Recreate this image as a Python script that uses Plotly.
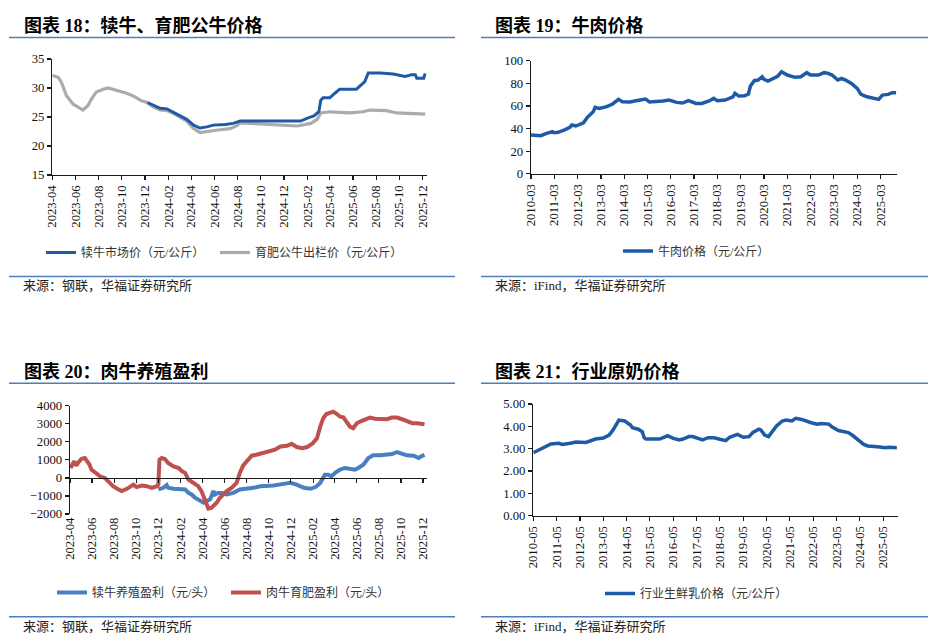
import plotly.graph_objects as go

# ---------------- Data ----------------
# 图表18: 犊牛 / 育肥公牛 价格 (元/公斤)
bull_dates = ["2023-04-01", "2023-04-10", "2023-04-17", "2023-04-25", "2023-05-08", "2023-05-26",
              "2023-06-13", "2023-06-21", "2023-07-04", "2023-07-13", "2023-07-26", "2023-08-13",
              "2023-08-26", "2023-09-05", "2023-09-27", "2023-10-14", "2023-11-01", "2023-11-19",
              "2023-12-06", "2023-12-23", "2024-01-10", "2024-01-28", "2024-02-15", "2024-03-02",
              "2024-03-20", "2024-04-07", "2024-04-24", "2024-05-12", "2024-05-29", "2024-06-16",
              "2024-07-12", "2024-07-30", "2024-08-08", "2024-09-04", "2024-10-08", "2024-11-22",
              "2025-01-05", "2025-02-10", "2025-02-27", "2025-03-08", "2025-04-01", "2025-05-23",
              "2025-06-27", "2025-07-15", "2025-08-28", "2025-09-24", "2025-12-08"]
bull_price = [32.2, 32.0, 31.8, 31.0, 28.7, 27.2,
              26.5, 26.2, 27.0, 28.1, 29.3, 29.8,
              30.0, 29.8, 29.5, 29.1, 28.6, 27.9,
              27.5, 26.7, 26.2, 26.1, 25.6, 25.0,
              24.3, 23.0, 22.3, 22.5, 22.7, 22.8,
              23.0, 23.5, 24.0, 23.9, 23.8, 23.7,
              23.45, 23.9, 24.6, 25.7, 25.9, 25.7,
              25.9, 26.2, 26.1, 25.7, 25.5]

calf_dates = ["2023-12-08", "2023-12-23", "2024-01-10", "2024-01-28", "2024-02-15", "2024-03-02",
              "2024-03-20", "2024-04-07", "2024-04-24", "2024-05-12", "2024-05-29", "2024-06-30",
              "2024-07-20", "2024-08-08", "2024-09-04", "2024-10-08", "2024-11-22", "2025-01-14",
              "2025-02-01", "2025-02-18", "2025-03-03", "2025-03-08", "2025-03-14", "2025-04-01",
              "2025-04-14", "2025-04-27", "2025-06-10", "2025-06-23", "2025-07-02", "2025-07-11",
              "2025-08-11", "2025-09-15", "2025-10-16", "2025-11-03", "2025-11-12", "2025-11-16",
              "2025-12-04", "2025-12-08"]
calf_price = [27.5, 27.1, 26.5, 26.4, 25.8, 25.2,
              24.6, 23.6, 23.1, 23.3, 23.6, 23.7,
              23.9, 24.3, 24.3, 24.2, 24.2, 24.3,
              24.8, 25.2, 25.9, 27.9, 28.3, 28.3,
              29.1, 29.8, 29.8, 30.5, 31.1, 32.6,
              32.6, 32.4, 32.0, 32.3, 32.3, 31.7,
              31.7, 32.5]

# 图表19: 牛肉价格 (元/公斤)
beef_dates = ["2010-03", "2010-08", "2010-11", "2011-02", "2011-03", "2011-05", "2011-08", "2011-11",
              "2011-12", "2012-02", "2012-06", "2012-08", "2012-11", "2012-12", "2013-02", "2013-06",
              "2013-09", "2013-12", "2014-02", "2014-06", "2014-09", "2015-02", "2015-04", "2015-08",
              "2015-11", "2016-02", "2016-06", "2016-09", "2016-12", "2017-04", "2017-07", "2017-11",
              "2018-01", "2018-03", "2018-07", "2018-11", "2018-12", "2019-02", "2019-05", "2019-07",
              "2019-08", "2019-10", "2019-12", "2020-02", "2020-03", "2020-05", "2020-08", "2020-10",
              "2020-12", "2021-03", "2021-07", "2021-10", "2022-01", "2022-03", "2022-07", "2022-10",
              "2022-12", "2023-02", "2023-05", "2023-07", "2023-09", "2023-12", "2024-03", "2024-05",
              "2024-08", "2024-12", "2025-02", "2025-04", "2025-07", "2025-09", "2025-11"]
beef_price = [34.2, 33.6, 35.7, 37.2, 36.3, 36.6, 38.6, 41.0,
              43.1, 42.2, 45.1, 49.9, 54.9, 58.7, 57.8, 59.3,
              61.7, 65.8, 63.7, 63.4, 64.6, 66.1, 63.4, 63.7,
              64.3, 65.2, 63.1, 62.5, 64.6, 62.2, 62.2, 64.6,
              66.7, 64.6, 65.2, 68.1, 71.1, 68.7, 69.0, 70.5,
              77.6, 82.3, 82.9, 85.8, 83.5, 82.0, 84.4, 86.1,
              90.3, 87.3, 85.3, 85.8, 89.4, 87.3, 87.3, 89.4,
              88.8, 87.3, 82.9, 84.4, 82.9, 79.9, 75.5, 70.2,
              68.1, 66.7, 65.8, 69.6, 70.2, 71.7, 71.7]

# 图表20: 肉牛养殖盈利 (元/头)
fatten_dates = ["2023-04-01", "2023-04-05", "2023-04-12", "2023-04-19", "2023-04-24", "2023-05-03",
                "2023-05-12", "2023-05-18", "2023-05-25", "2023-05-30", "2023-06-09", "2023-06-23",
                "2023-07-06", "2023-07-15", "2023-07-29", "2023-08-13", "2023-08-22", "2023-09-05",
                "2023-09-19", "2023-09-23", "2023-10-02", "2023-10-16", "2023-10-30", "2023-11-13",
                "2023-11-27", "2023-12-01", "2023-12-04", "2023-12-10", "2023-12-19", "2023-12-28",
                "2024-01-12", "2024-01-26", "2024-02-04", "2024-02-13", "2024-02-22", "2024-03-06",
                "2024-03-20", "2024-03-29", "2024-04-08", "2024-04-17", "2024-04-26", "2024-05-10",
                "2024-05-19", "2024-05-28", "2024-06-07", "2024-06-20", "2024-07-04", "2024-07-13",
                "2024-07-22", "2024-08-01", "2024-08-15", "2024-08-28", "2024-09-16", "2024-09-26",
                "2024-10-05", "2024-10-18", "2024-11-02", "2024-11-20", "2024-12-03", "2024-12-17",
                "2025-01-01", "2025-01-15", "2025-01-29", "2025-02-11", "2025-02-20", "2025-02-28",
                "2025-03-09", "2025-03-18", "2025-03-28", "2025-04-07", "2025-04-16", "2025-04-25",
                "2025-05-04", "2025-05-13", "2025-05-22", "2025-06-01", "2025-06-10", "2025-06-24",
                "2025-07-07", "2025-07-21", "2025-08-05", "2025-08-23", "2025-09-06", "2025-09-20",
                "2025-10-04", "2025-10-17", "2025-11-01", "2025-11-14", "2025-12-05"]
fatten_profit = [680, 640, 920, 680, 860, 1060,
                 1100, 920, 730, 460, 275, 90,
                 0, -180, -460, -640, -730, -605,
                 -460, -370, -510, -420, -460, -550,
                 -460, -370, 1010, 1100, 1050, 830,
                 640, 550, 370, 275, -90, -275,
                 -460, -730, -1190, -1700, -1650, -1380,
                 -1100, -920, -730, -550, -275, 275,
                 680, 920, 1230, 1280, 1380, 1470,
                 1470, 1560, 1740, 1780, 1890, 1710,
                 1650, 1710, 1890, 2200, 2840, 3300,
                 3540, 3610, 3670, 3540, 3390, 3360,
                 3120, 2840, 2750, 3030, 3120, 3250,
                 3340, 3280, 3250, 3250, 3340, 3340,
                 3250, 3120, 3030, 3030, 2970]

breed_dates = ["2023-12-01", "2023-12-15", "2023-12-24", "2023-12-28", "2024-01-12", "2024-01-30",
               "2024-02-13", "2024-02-22", "2024-03-02", "2024-03-11", "2024-03-25", "2024-04-04",
               "2024-04-13", "2024-04-22", "2024-05-01", "2024-05-05", "2024-05-14", "2024-05-23",
               "2024-06-07", "2024-06-25", "2024-07-13", "2024-08-01", "2024-08-20", "2024-09-08",
               "2024-09-26", "2024-10-14", "2024-11-11", "2024-11-29", "2024-12-17", "2025-01-06",
               "2025-01-24", "2025-02-07", "2025-02-20", "2025-03-05", "2025-03-14", "2025-03-23",
               "2025-04-02", "2025-04-16", "2025-04-29", "2025-05-13", "2025-05-27", "2025-06-05",
               "2025-06-19", "2025-07-03", "2025-07-16", "2025-08-05", "2025-08-23", "2025-09-06",
               "2025-09-20", "2025-10-04", "2025-10-17", "2025-11-05", "2025-11-19", "2025-11-25",
               "2025-12-05"]
breed_profit = [-640, -550, -400, -550, -605, -605,
                -640, -830, -920, -1100, -1280, -1380,
                -1280, -1190, -730, -920, -830, -830,
                -920, -830, -640, -605, -550, -460,
                -460, -420, -330, -275, -370, -550,
                -605, -510, -275, 180, 180, 90,
                275, 460, 550, 500, 460, 550,
                730, 1100, 1250, 1250, 1280, 1320,
                1430, 1340, 1250, 1230, 1100, 1190,
                1280]

# 图表21: 行业原奶价格 (元/公斤)
milk_dates = ["2010-05", "2010-08", "2010-11", "2011-02", "2011-06", "2011-08", "2011-12", "2012-03",
              "2012-08", "2012-11", "2013-01", "2013-05", "2013-08", "2013-10", "2013-12", "2014-01",
              "2014-04", "2014-07", "2014-08", "2014-11", "2015-01", "2015-02", "2015-03", "2015-07",
              "2015-10", "2016-01", "2016-02", "2016-05", "2016-08", "2016-10", "2017-01", "2017-03",
              "2017-06", "2017-08", "2017-11", "2018-02", "2018-05", "2018-08", "2018-10", "2019-01",
              "2019-02", "2019-05", "2019-08", "2019-10", "2020-01", "2020-02", "2020-04", "2020-06",
              "2020-08", "2020-10", "2021-01", "2021-03", "2021-06", "2021-08", "2021-11", "2022-01",
              "2022-04", "2022-07", "2022-09", "2023-01", "2023-03", "2023-06", "2023-08", "2023-11",
              "2024-01", "2024-04", "2024-07", "2024-09", "2024-12", "2025-02", "2025-06", "2025-08",
              "2025-12"]
milk_price = [2.82, 2.94, 3.06, 3.21, 3.24, 3.19, 3.24, 3.30,
              3.28, 3.36, 3.43, 3.48, 3.61, 3.84, 4.10, 4.28,
              4.24, 4.06, 3.94, 3.87, 3.76, 3.49, 3.43, 3.42,
              3.43, 3.54, 3.58, 3.46, 3.39, 3.43, 3.54, 3.54,
              3.43, 3.39, 3.49, 3.49, 3.42, 3.36, 3.51, 3.61,
              3.64, 3.51, 3.54, 3.73, 3.87, 3.84, 3.61, 3.54,
              3.76, 4.01, 4.24, 4.28, 4.24, 4.36, 4.31, 4.24,
              4.16, 4.10, 4.13, 4.10, 3.96, 3.81, 3.76, 3.72,
              3.61, 3.39, 3.19, 3.12, 3.12, 3.09, 3.04, 3.06,
              3.04]

# ---------------- Styling / layout ----------------
W, H = 939, 639
SERIF_CJK = "Liberation Serif, Noto Sans CJK SC"
DARK_BLUE = "#1f5aa6"
GRAY = "#ababab"
MID_BLUE = "#4a7fc1"
RED = "#c0504d"
RULE = "#4f7fba"
AXIS = "#1a1a1a"


def fx(p):
    return p / W


def fy(p):
    return 1 - p / H


tickfont = dict(family="Liberation Serif", size=12.7, color="#111")


def xaxis_cfg(dom, rng, tick0, dtick, show_line=True, show_labels=True, ticks="outside"):
    return dict(domain=dom, range=rng, type="date", tick0=tick0, dtick=dtick,
                tickformat="%Y-%m", tickangle=-90, ticks=ticks, ticklen=4, tickwidth=1.2,
                tickcolor=AXIS, showline=show_line, linecolor=AXIS, linewidth=1.3,
                showgrid=False, zeroline=False, showticklabels=show_labels,
                tickfont=tickfont, automargin=False, fixedrange=True)


def yaxis_cfg(dom, rng, dtick, fmt=None):
    d = dict(domain=dom, range=rng, dtick=dtick, ticks="outside", ticklen=4, tickwidth=1.2,
             tickcolor=AXIS, showline=True, linecolor=AXIS, linewidth=1.3, showgrid=False,
             zeroline=False, tickfont=tickfont, automargin=False, fixedrange=True)
    if fmt:
        d["tickformat"] = fmt
    return d


fig = go.Figure()

fig.add_trace(go.Scatter(x=bull_dates, y=bull_price, mode="lines", name="育肥公牛出栏价（元/公斤）",
                         line=dict(color=GRAY, width=3.2), xaxis="x", yaxis="y", legend="legend5"))
fig.add_trace(go.Scatter(x=calf_dates, y=calf_price, mode="lines", name="犊牛市场价（元/公斤）",
                         line=dict(color=DARK_BLUE, width=3), xaxis="x", yaxis="y", legend="legend"))

fig.add_trace(go.Scatter(x=beef_dates, y=beef_price, mode="lines", name="牛肉价格（元/公斤）",
                         line=dict(color=DARK_BLUE, width=3.5), xaxis="x2", yaxis="y2", legend="legend2"))

fig.add_trace(go.Scatter(x=breed_dates, y=breed_profit, mode="lines", name="犊牛养殖盈利（元/头）",
                         line=dict(color=MID_BLUE, width=4), xaxis="x3", yaxis="y3", legend="legend3"))
fig.add_trace(go.Scatter(x=fatten_dates, y=fatten_profit, mode="lines", name="肉牛育肥盈利（元/头）",
                         line=dict(color=RED, width=4), xaxis="x5", yaxis="y3", legend="legend6"))

fig.add_trace(go.Scatter(x=milk_dates, y=milk_price, mode="lines", name="行业生鲜乳价格（元/公斤）",
                         line=dict(color=DARK_BLUE, width=3.5), xaxis="x4", yaxis="y4", legend="legend4"))

# panel domains (pixel positions of the plot areas)
d1x, d1y = [fx(52.3), fx(426.7)], [fy(175), fy(59)]
d2x, d2y = [fx(531), fx(897.3)], [fy(173.7), fy(60.7)]
d3x, d3y = [fx(70), fx(426.7)], [fy(514), fy(405.7)]
d4x, d4y = [fx(533.3), fx(897.7)], [fy(515.7), fy(404)]

p3_range = [-2000, 4000]
zero_pos = d3y[0] + (0 - p3_range[0]) / (p3_range[1] - p3_range[0]) * (d3y[1] - d3y[0])

x3 = xaxis_cfg(d3x, ["2023-04-01", "2025-12-11"], "2023-04-01", "M2", show_line=False, ticks="")
x5 = xaxis_cfg(d3x, ["2023-04-01", "2025-12-11"], "2023-04-01", "M2", show_labels=False)
x5.update(overlaying="x3", anchor="free", position=zero_pos)
x5.pop("domain")

legend_common = dict(orientation="h", xanchor="left", yanchor="middle", bgcolor="rgba(0,0,0,0)",
                     font=dict(family=SERIF_CJK, size=12, color="#333"), borderwidth=0,
                     tracegroupgap=0, itemclick=False, itemdoubleclick=False)

fig.update_layout(
    width=W, height=H, autosize=False,
    margin=dict(l=0, r=0, t=0, b=0),
    paper_bgcolor="white", plot_bgcolor="white",
    showlegend=True,
    xaxis=xaxis_cfg(d1x, ["2023-04-01", "2025-12-12"], "2023-04-01", "M2"),
    yaxis=yaxis_cfg(d1y, [15, 35], 5),
    xaxis2=xaxis_cfg(d2x, ["2010-03-01", "2025-11-20"], "2010-03-01", "M12"),
    yaxis2=yaxis_cfg(d2y, [0, 100], 20),
    xaxis3=x3,
    yaxis3=yaxis_cfg(d3y, p3_range, 1000),
    xaxis5=x5,
    xaxis4=xaxis_cfg(d4x, ["2010-05-01", "2025-12-15"], "2010-05-01", "M12"),
    yaxis4=yaxis_cfg(d4y, [0, 5], 1, ".2f"),
    legend=dict(legend_common, x=fx(41), y=fy(252.5)),
    legend5=dict(legend_common, x=fx(215), y=fy(252.5)),
    legend2=dict(legend_common, x=fx(618), y=fy(251)),
    legend3=dict(legend_common, x=fx(52), y=fy(592.5)),
    legend6=dict(legend_common, x=fx(226), y=fy(592.5)),
    legend4=dict(legend_common, x=fx(600), y=fy(593.5)),
)
fig.update_layout(xaxis=dict(anchor="y"), yaxis=dict(anchor="x"),
                  xaxis2=dict(anchor="y2"), yaxis2=dict(anchor="x2"),
                  xaxis3=dict(anchor="y3"), yaxis3=dict(anchor="x3"),
                  xaxis4=dict(anchor="y4"), yaxis4=dict(anchor="x4"))

# titles, sources and rules
titles = [("图表 18：犊牛、育肥公牛价格", 21.7, 25.5), ("图表 19：牛肉价格", 493.3, 25.5),
          ("图表 20：肉牛养殖盈利", 21.7, 371.7), ("图表 21：行业原奶价格", 493.3, 371.7)]
for text, px, py in titles:
    fig.add_annotation(text="<b>" + text + "</b>", x=fx(px), y=fy(py), xref="paper", yref="paper",
                       xanchor="left", yanchor="middle", showarrow=False,
                       font=dict(family=SERIF_CJK, size=18, color="#000"))

sources = [("来源：钢联，华福证券研究所", 20.7, 285), ("来源：iFind，华福证券研究所", 492.7, 285),
           ("来源：钢联，华福证券研究所", 20.7, 626), ("来源：iFind，华福证券研究所", 492.7, 626)]
for text, px, py in sources:
    fig.add_annotation(text=text, x=fx(px), y=fy(py), xref="paper", yref="paper",
                       xanchor="left", yanchor="middle", showarrow=False,
                       font=dict(family=SERIF_CJK, size=13, color="#222"))

rules = [(9, 455, 37.5), (481, 928, 37.5), (9, 455, 276.5), (481, 928, 276.5),
         (9, 455, 383.3), (481, 928, 383.3), (9, 455, 616.7), (481, 928, 616.7)]
for x0, x1, yy in rules:
    fig.add_shape(type="line", xref="paper", yref="paper", x0=fx(x0), x1=fx(x1), y0=fy(yy), y1=fy(yy),
                  line=dict(color=RULE, width=1.5))

fig.write_html("out.html", config={"displayModeBar": False, "staticPlot": True},
               post_script="document.body.style.margin='0';document.body.style.overflow='hidden';")
